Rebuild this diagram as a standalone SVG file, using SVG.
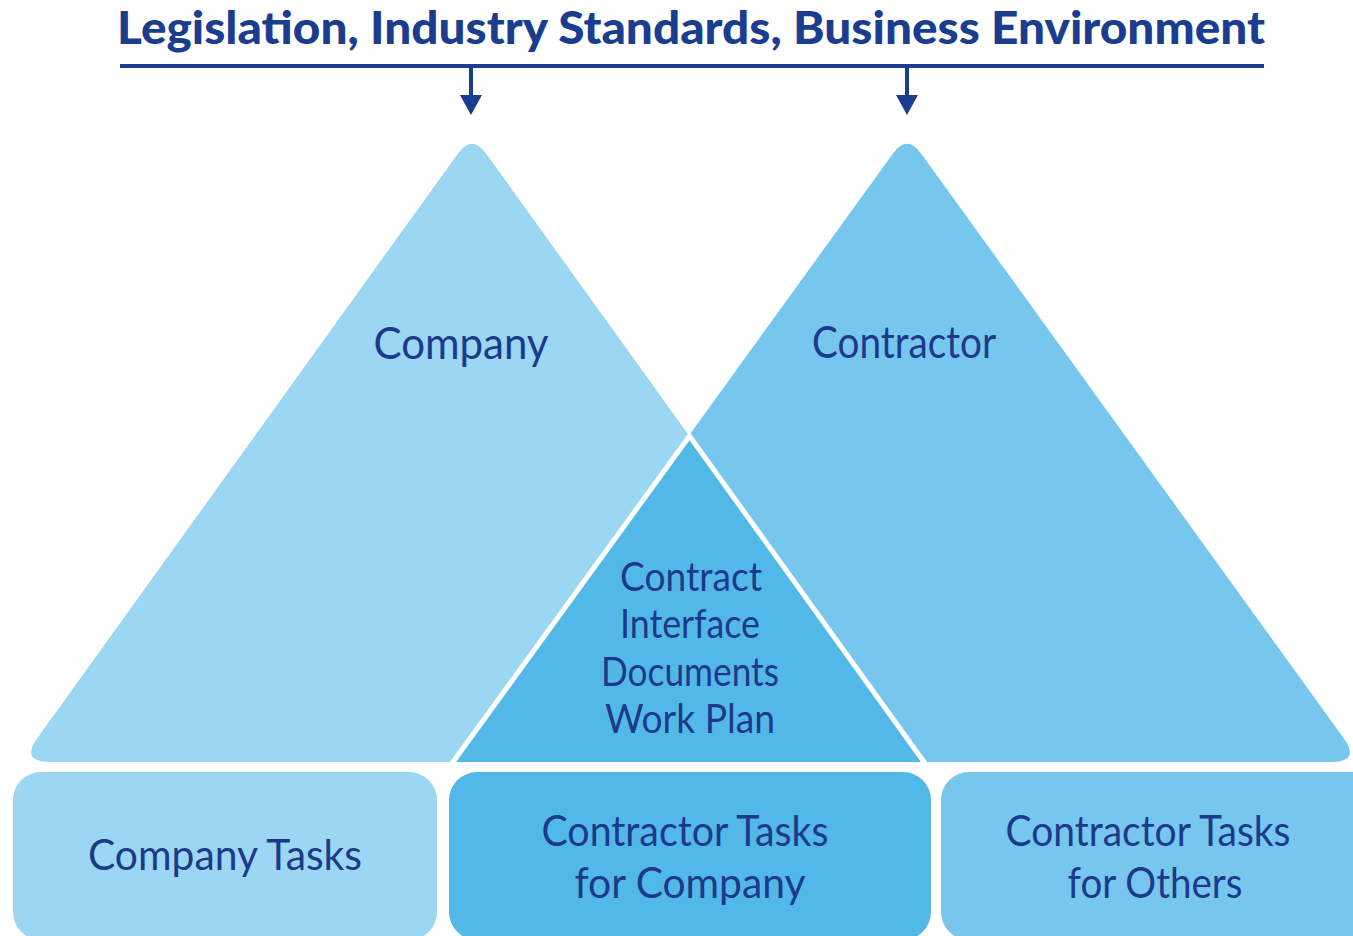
<svg xmlns="http://www.w3.org/2000/svg" width="1353" height="936" viewBox="0 0 1353 936">
  <style>
    .title { font-family: Lato, "Liberation Sans", sans-serif; font-weight: 900; font-size: 46px; fill: #1b3d8f; }
    .lbl { font-family: Lato, "Liberation Sans", sans-serif; font-weight: normal; fill: #1d3a8a; text-anchor: middle; }
    .big { font-size: 44px; }
    .mid { font-size: 40px; }
    .box { font-size: 42px; }
    .conn { stroke: #1b3d8f; stroke-width: 4; fill: none; }
    .sep { stroke: #ffffff; stroke-width: 5; fill: none; }
  </style>
  <defs>
    <marker id="arrow" viewBox="0 0 20 22" refX="13" refY="11" markerWidth="20" markerHeight="22" markerUnits="userSpaceOnUse" orient="auto">
      <path d="M0,0 L20,11 L0,22 z" fill="#1b3d8f"/>
    </marker>
  </defs>
  <rect width="1353" height="936" fill="#ffffff"/>

  <g id="title">
    <text class="title" x="117" y="44" textLength="1148" lengthAdjust="spacingAndGlyphs">Legislation, Industry Standards, Business Environment</text>
  </g>

  <g id="connectors">
    <line class="conn" x1="120" y1="66" x2="1264" y2="66"/>
    <line class="conn" x1="471" y1="64" x2="471" y2="108" marker-end="url(#arrow)"/>
    <line class="conn" x1="907" y1="64" x2="907" y2="108" marker-end="url(#arrow)"/>
  </g>

  <g id="company">
    <path d="M458,153.4 Q472,134 486,153.4 L924,762 L50,762 Q20,762 37.6,737.7 Z" fill="#9bd6f2"/>
    <text class="lbl big" x="461" y="359" textLength="175" lengthAdjust="spacingAndGlyphs">Company</text>
  </g>

  <g id="contractor">
    <path d="M893,153.4 Q907,134 921,153.4 L1343.4,737.7 Q1361,762 1331,762 L453,762 Z" fill="#76c6ee"/>
    <text class="lbl big" x="904" y="358" textLength="184" lengthAdjust="spacingAndGlyphs">Contractor</text>
  </g>

  <g id="interface">
    <path d="M689.5,436 L924,762 L453,762 Z" fill="#52b8e8"/>
    <path class="sep" d="M451,764.8 L689.5,436 L926,764.8"/>
    <text class="lbl mid" x="691" y="591" textLength="142" lengthAdjust="spacingAndGlyphs">Contract</text>
    <text class="lbl mid" x="690" y="638" textLength="140" lengthAdjust="spacingAndGlyphs">Interface</text>
    <text class="lbl mid" x="690" y="686" textLength="178" lengthAdjust="spacingAndGlyphs">Documents</text>
    <text class="lbl mid" x="690" y="733" textLength="170" lengthAdjust="spacingAndGlyphs">Work Plan</text>
  </g>

  <g id="company-tasks">
    <rect x="13" y="772" width="424" height="168" rx="28" ry="28" fill="#9bd6f2"/>
    <text class="lbl box" x="225" y="870" textLength="274" lengthAdjust="spacingAndGlyphs">Company Tasks</text>
  </g>

  <g id="contractor-tasks-company">
    <rect x="449" y="772" width="482" height="168" rx="28" ry="28" fill="#52b8e8"/>
    <text class="lbl box" x="685" y="846" textLength="287" lengthAdjust="spacingAndGlyphs">Contractor Tasks</text>
    <text class="lbl box" x="690" y="898" textLength="231" lengthAdjust="spacingAndGlyphs">for Company</text>
  </g>

  <g id="contractor-tasks-others">
    <rect x="941" y="772" width="440" height="168" rx="28" ry="28" fill="#76c6ee"/>
    <text class="lbl box" x="1148" y="846" textLength="285" lengthAdjust="spacingAndGlyphs">Contractor Tasks</text>
    <text class="lbl box" x="1155" y="898" textLength="175" lengthAdjust="spacingAndGlyphs">for Others</text>
  </g>
</svg>
